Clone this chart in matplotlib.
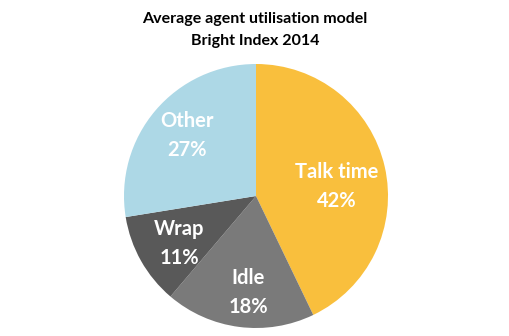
import matplotlib.pyplot as plt

# data
labels = ['Talk time', 'Idle', 'Wrap', 'Other']
shares = [42, 18, 11, 27]
colors = ['#F9BF3D', '#7A7A7A', '#595959', '#ADD8E6']

# label placement (pie units), as the original "best fit" put them
label_xy = [(0.61, 0.07), (-0.06, -0.73), (-0.58, -0.36), (-0.52, 0.46)]

plt.rcParams['font.family'] = ['Lato', 'DejaVu Sans']

fig = plt.figure(figsize=(5.1, 3.36), dpi=100)
ax = fig.add_axes([124 / 510, 8 / 336, 264 / 510, 264 / 336])

wedges, texts = ax.pie(shares, colors=colors, startangle=90, counterclock=False,
                       labels=[f'{l}\n{s}%' for l, s in zip(labels, shares)],
                       textprops=dict(color='white', fontsize=14.5, fontweight='bold',
                                      ha='center', va='center', linespacing=1.55))
for t, xy in zip(texts, label_xy):
    t.set_position(xy)
    t.set_horizontalalignment('center')
    t.set_verticalalignment('center')
ax.set_xlim(-1, 1)
ax.set_ylim(-1, 1)
ax.set_aspect('equal')

fig.text(0.5, 1 - 30 / 336, 'Average agent utilisation model\nBright Index 2014',
         ha='center', va='center', fontsize=11.5, fontweight='bold', linespacing=1.7)

fig.savefig('out.png', dpi=100)
